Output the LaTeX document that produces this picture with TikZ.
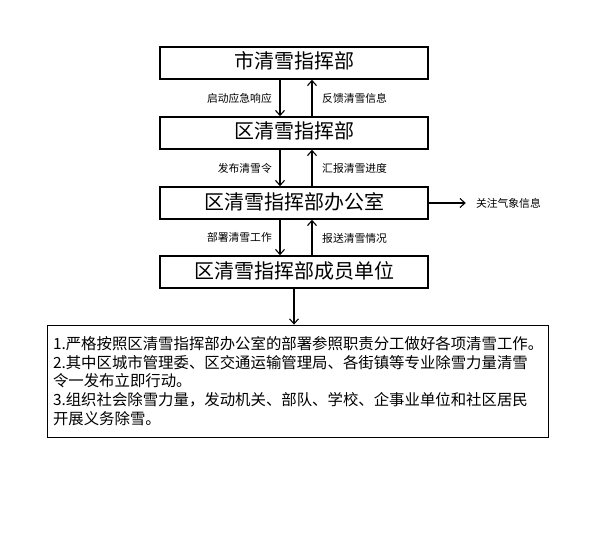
\documentclass[tikz,border=0pt]{standalone}
\usepackage{fontspec}
\newfontfamily\cjk{Noto Sans CJK SC}
\usetikzlibrary{positioning,arrows.meta}

\begin{document}
\begin{tikzpicture}
[x=1pt,y=-1pt,
 box/.style={draw,line width=1.6pt,minimum width=268pt,minimum height=32pt,inner sep=0pt,
   text height=16pt,text depth=4pt,font=\cjk\fontsize{20}{20}\selectfont},
 lbl/.style={inner sep=0pt,font=\cjk\fontsize{10.8}{10.8}\selectfont},
 flow/.style={-{Straight Barb[length=5pt,width=9pt]},line width=1.1pt}
]
\useasboundingbox (0,0) rectangle (595,551);

\node[box] (city) at (294,63) {市清雪指挥部};
\node[box] (district) at (294,133) {区清雪指挥部};
\node[box] (office) at (294,203) {区清雪指挥部办公室};
\node[box] (members) at (294,272) {区清雪指挥部成员单位};
\node[draw,line width=0.8pt,minimum width=501pt,minimum height=112pt,inner xsep=6pt,
  text width=489pt,align=left,font=\cjk\fontsize{15.4}{18.7}\selectfont]
  (tasks) at (297.5,381)
  {1.严格按照区清雪指挥部办公室的部署参照职责分工做好各项清雪工作。\\
   2.其中区城市管理委、区交通运输管理局、各街镇等专业除雪力量清雪\\
   令一发布立即行动。\\
   3.组织社会除雪力量，发动机关、部队、学校、企事业单位和社区居民\\
   开展义务除雪。};

% down = orders, up = reports
\draw[flow] ([xshift=-14pt]city.south) -- ([xshift=-14pt]district.north);
\draw[flow] ([xshift=18pt]district.north) -- ([xshift=18pt]city.south);
\draw[flow] ([xshift=-14pt]district.south) -- ([xshift=-14pt]office.north);
\draw[flow] ([xshift=18pt]office.north) -- ([xshift=18pt]district.south);
\draw[flow] ([xshift=-14pt]office.south) -- ([xshift=-14pt]members.north);
\draw[flow] ([xshift=18pt]members.north) -- ([xshift=18pt]office.south);
\draw[flow] (members.south) -- (members.south |- tasks.north);

\node[lbl,anchor=east] (start) at (272,98) {启动应急响应};
\node[lbl,anchor=west] (feedback) at (322,98) {反馈清雪信息};
\node[lbl,anchor=east] (issue) at (272,168) {发布清雪令};
\node[lbl,anchor=west] (progress) at (322,168) {汇报清雪进度};
\node[lbl,anchor=east] (deploy) at (272,237) {部署清雪工作};
\node[lbl,anchor=west] (status) at (322,238) {报送清雪情况};

\coordinate (watchend) at ([xshift=37pt]office.east);
\draw[flow] (office.east) -- (watchend);
\node[lbl,anchor=west] (watch) at ([xshift=47pt]office.east) {关注气象信息};

\end{tikzpicture}
\end{document}
